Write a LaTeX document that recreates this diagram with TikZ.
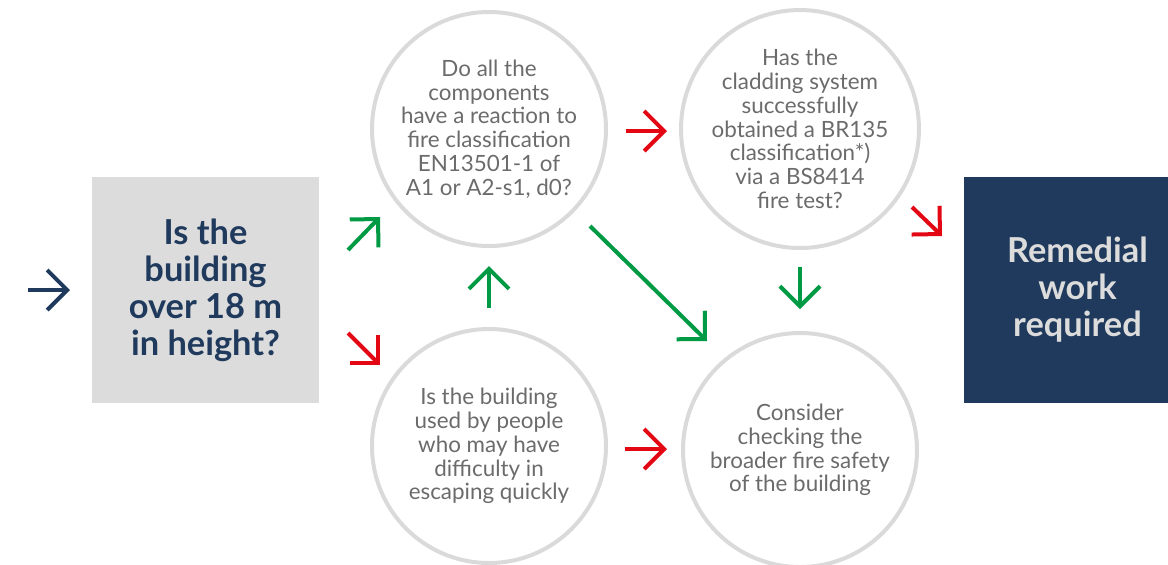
\documentclass[tikz,border=0pt]{standalone}
\usepackage{fontspec}
\setmainfont{Lato}
\usetikzlibrary{arrows.meta}
\definecolor{navy}{HTML}{1F3A5C}
\definecolor{boxgray}{HTML}{DCDCDC}
\definecolor{ringgray}{HTML}{DADADA}
\definecolor{textgray}{HTML}{6B6B6B}
\definecolor{paletext}{HTML}{DCDCDC}
\definecolor{okgreen}{HTML}{009A44}
\definecolor{nored}{HTML}{E30613}
\begin{document}
\begin{tikzpicture}[x=0.5pt,y=-0.5pt]
      \tikzset{question/.style={circle,
          draw=ringgray,
          line width=2pt,
          minimum size=117pt,
          inner sep=0pt,
          align=center,
          text=textgray,
          font=\fontsize{11.2}{11.9}\selectfont},
        bigbox/.style={minimum width=113.5pt,
          minimum height=113pt,
          inner sep=0pt,
          align=center,
          font=\fontsize{17.2}{18.5}\selectfont\bfseries},
        flow/.style={line width=2pt,
          -{Straight Barb[length=10pt,width=20pt,line cap=butt,line join=miter]}}
      }
      \useasboundingbox (0,0) rectangle (1168,564);
      \node [bigbox,fill=boxgray,text=navy] (H) at (205.5,290) {Is the\\building\\over 18 m\\in height?};
      \node [bigbox,fill=navy,text=paletext] (R) at (1077.5,290) {Remedial\\work\\required};
      \node [question] (C) at (489,129) {Do all the\\components\\have a reaction to\\fire classification\\EN13501-1 of\\A1 or A2-s1, d0?};
      \node [question] (T) at (800,129) {Has the\\cladding system\\successfully\\obtained a BR135\\classification*)\\via a BS8414\\fire test?};
      \node [question] (P) at (489,446) {Is the building\\used by people\\who may have\\difficulty in\\escaping quickly};
      \node [question] (S) at (800,450) {Consider\\checking the\\broader fire safety\\of the building};

      \coordinate (in0) at (28,290);   \coordinate (in1) at (70,290);
      \coordinate (hc0) at (348,250);  \coordinate (hc1) at (380,217);
      \coordinate (hp0) at (348,333);  \coordinate (hp1) at (380,365);
      \coordinate (pc0) at (489,308);  \coordinate (pc1) at (489,266);
      \coordinate (ct0) at (626,131);  \coordinate (ct1) at (667,131);
      \coordinate (cs0) at (590,226);  \coordinate (cs1) at (707,341);
      \coordinate (ts0) at (800,267);  \coordinate (ts1) at (800,309);
      \coordinate (ps0) at (625,449);  \coordinate (ps1) at (667,449);
      \coordinate (tr0) at (912,207);  \coordinate (tr1) at (942,236);

      \draw [flow,navy] (in0)--(in1);
      \draw [flow,okgreen] (hc0)--(hc1);
      \draw [flow,nored] (hp0)--(hp1);
      \draw [flow,okgreen] (pc0)--(pc1);
      \draw [flow,nored] (ct0)--(ct1);
      \draw [flow,okgreen] (cs0)--(cs1);
      \draw [flow,okgreen] (ts0)--(ts1);
      \draw [flow,nored] (ps0)--(ps1);
      \draw [flow,nored] (tr0)--(tr1);
    \end{tikzpicture}
\end{document}
